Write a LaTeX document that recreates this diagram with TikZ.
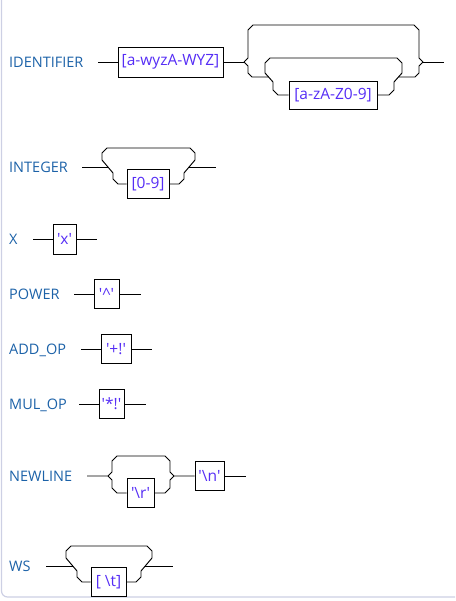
\documentclass[tikz,border=0pt]{standalone}
\usepackage{fontspec}
\setmainfont{Open Sans}
\definecolor{lbl}{RGB}{28,98,168}
\definecolor{tok}{RGB}{85,45,245}
\definecolor{framec}{RGB}{205,208,228}
\begin{document}
\begin{tikzpicture}[x=1pt,y=-1pt,
  rail/.style={draw=black, line width=0.95pt},
  tbox/.style={draw=black, line width=0.95pt, inner sep=0pt, text=tok, font=\fontsize{15.5}{15.5}\selectfont},
  lab/.style={anchor=west, inner sep=0pt, text=lbl, font=\fontsize{14.5}{14.5}\selectfont, text height=10.5pt, text depth=0pt}]
\useasboundingbox (0,0) rectangle (455,601);
\draw[framec, line width=1.2pt, rounded corners=6pt] (1.5,0) -- (1.5,597) -- (455,597);

% labels
\node[lab] (lid) at (9,62) {IDENTIFIER};
\node[lab] (lint) at (9,167) {INTEGER};
\node[lab] (lx) at (9,239) {X};
\node[lab] (lpow) at (9,294) {POWER};
\node[lab] (ladd) at (9,349) {ADD\_OP};
\node[lab] (lmul) at (9,404) {MUL\_OP};
\node[lab] (lnl) at (9,476) {NEWLINE};
\node[lab] (lws) at (9,566) {WS};

% boxes
\node[tbox, minimum width=105pt, minimum height=30pt] (b1) at (170.5,62) {[a-wyzA-WYZ]};
\node[tbox, minimum width=88pt, minimum height=28pt] (b2) at (333,95) {[a-zA-Z0-9]};
\node[tbox, minimum width=42pt, minimum height=29pt] (b3) at (148,184) {[0-9]};
\node[tbox, minimum width=23pt, minimum height=30pt] (bx) at (64.5,239) {\textquotesingle x\textquotesingle};
\node[tbox, minimum width=25pt, minimum height=29pt] (bp) at (106.5,294) {\textquotesingle\textasciicircum\textquotesingle};
\node[tbox, minimum width=30pt, minimum height=29pt] (ba) at (116,349) {\textquotesingle+!\textquotesingle};
\node[tbox, minimum width=25pt, minimum height=29pt] (bm) at (111.5,404) {\textquotesingle*!\textquotesingle};
\node[tbox, minimum width=27pt, minimum height=29pt] (br) at (140.5,493) {\textquotesingle\textbackslash r\textquotesingle};
\node[tbox, minimum width=29pt, minimum height=29pt] (bn) at (209.5,476) {\textquotesingle\textbackslash n\textquotesingle};
\node[tbox, minimum width=35pt, minimum height=29pt] (bw) at (108.5,582) {[ \textbackslash t]};

% IDENTIFIER
\coordinate (id0) at (98,62);
\coordinate (idsL) at (244,62);
\coordinate (idsR) at (423,62);
\coordinate (id1) at (444,62);
\draw[rail] (id0) -- (b1.west);
\draw[rail] (b1.east) -- (idsL);
\draw[rail] (idsL) -- (248,58) -- (248,30) -- (253,25) -- (414,25) -- (419,30) -- (419,58) -- (idsR);
\draw[rail] (idsL) -- (248,66) -- (248,73) -- (252,77) -- (268.6,77);
\draw[rail] (398.4,77) -- (415,77) -- (419,73) -- (419,66) -- (idsR);
\draw[rail] (b2.west) -- (278,95) -- (273,90) -- (273,82) -- (265,73) -- (265,63) -- (270,58) -- (397,58) -- (402,63) -- (402,73) -- (394,82) -- (394,90) -- (389,95) -- (b2.east);
\draw[rail] (idsR) -- (id1);

% INTEGER
\coordinate (in0) at (82,167);
\coordinate (inL) at (107.9,167);
\coordinate (inR) at (189.1,167);
\coordinate (in1) at (216,167);
\draw[rail] (in0) -- (inL);
\draw[rail] (b3.west) -- (118,184) -- (113,179) -- (113,173) -- (102,160) -- (102,153) -- (107,148) -- (190,148) -- (195,153) -- (195,160) -- (184,173) -- (184,179) -- (179,184) -- (b3.east);
\draw[rail] (inR) -- (in1);

% X
\coordinate (x0) at (33,239);
\coordinate (x1) at (97,239);
\draw[rail] (x0) -- (bx.west);
\draw[rail] (bx.east) -- (x1);

% POWER
\coordinate (p0) at (74,294);
\coordinate (p1) at (141,294);
\draw[rail] (p0) -- (bp.west);
\draw[rail] (bp.east) -- (p1);

% ADD_OP
\coordinate (a0) at (81,349);
\coordinate (a1) at (152,349);
\draw[rail] (a0) -- (ba.west);
\draw[rail] (ba.east) -- (a1);

% MUL_OP
\coordinate (m0) at (79,404);
\coordinate (m1) at (146,404);
\draw[rail] (m0) -- (bm.west);
\draw[rail] (bm.east) -- (m1);

% NEWLINE
\coordinate (n0) at (87,476);
\coordinate (nL) at (108,476);
\coordinate (nR) at (174,476);
\coordinate (n1) at (246,476);
\draw[rail] (n0) -- (nL) -- (112,472) -- (112,461) -- (117,456) -- (165,456) -- (170,461) -- (170,472) -- (nR) -- (bn.west);
\draw[rail] (nL) -- (112,480) -- (112,488) -- (117,493) -- (br.west);
\draw[rail] (br.east) -- (165,493) -- (170,488) -- (170,480) -- (nR);
\draw[rail] (bn.east) -- (n1);

% WS
\coordinate (w0) at (46,566);
\coordinate (wL) at (72.8,566);
\coordinate (wR) at (145.2,566);
\coordinate (w1) at (173,566);
\draw[rail] (w0) -- (wL);
\draw[rail] (bw.west) -- (82,582) -- (77,577) -- (77,571) -- (66,558) -- (66,551) -- (71,546) -- (147,546) -- (152,551) -- (152,558) -- (141,571) -- (141,577) -- (136,582) -- (bw.east);
\draw[rail] (wR) -- (w1);
\end{tikzpicture}
\end{document}
